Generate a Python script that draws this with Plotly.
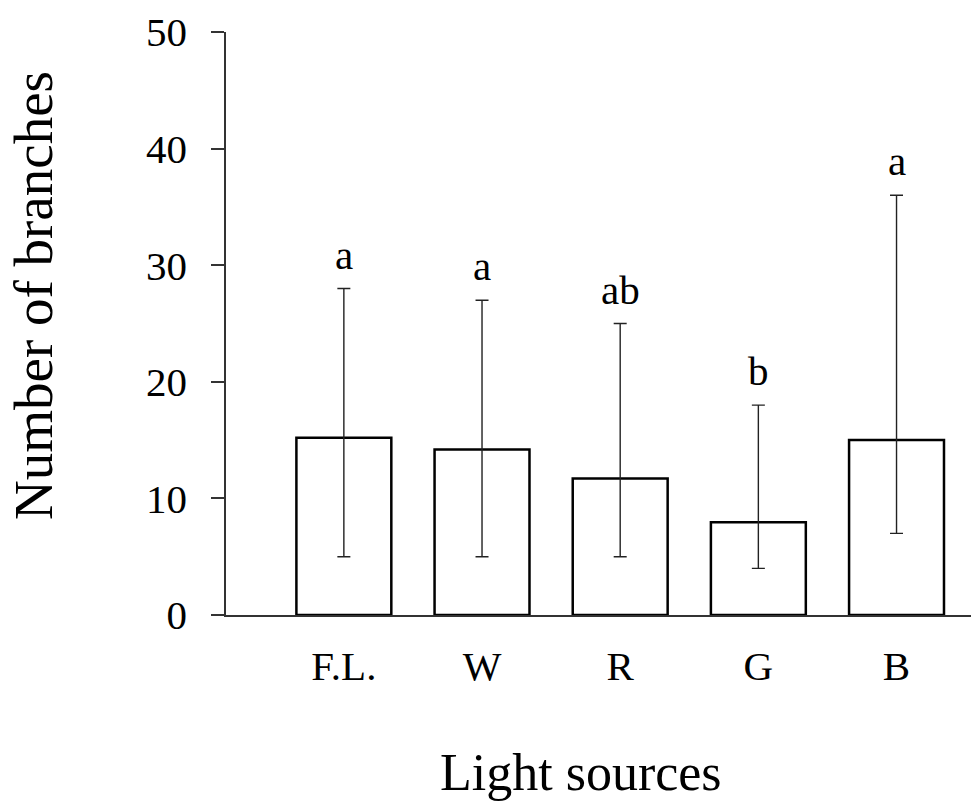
import plotly.graph_objects as go

categories = ["F.L.", "W", "R", "G", "B"]
means = [15.2, 14.2, 11.7, 7.95, 15.0]
upper = [28, 27, 25, 18, 36]
lower = [5, 5, 5, 4, 7]
letters = ["a", "a", "ab", "b", "a"]
y_ticks = [0, 10, 20, 30, 40, 50]

FONT = "Liberation Serif, Times New Roman, serif"

err_plus = [u - m for u, m in zip(upper, means)]
err_minus = [m - l for m, l in zip(means, lower)]

fig = go.Figure()
fig.add_trace(go.Bar(
    x=list(range(len(categories))),
    y=means,
    width=0.687,
    marker=dict(color="white", line=dict(color="black", width=2.5)),
    error_y=dict(type="data", symmetric=False, array=err_plus, arrayminus=err_minus,
                 color="#222222", thickness=1.4, width=6.5),
    showlegend=False,
    hoverinfo="skip",
))

for i, (lab, u) in enumerate(zip(letters, upper)):
    fig.add_annotation(x=i, y=u, text=lab, showarrow=False, xref="x", yref="y",
                       yanchor="bottom", yshift=9,
                       font=dict(family=FONT, size=41, color="black"))

fig.add_annotation(x=(581 - 226) / 745, y=(615 - 772) / 583, xref="paper", yref="paper",
                   text="Light sources", showarrow=False, xanchor="center", yanchor="middle",
                   font=dict(family=FONT, size=52, color="black"))
fig.add_annotation(x=(33 - 226) / 745, y=(615 - 296) / 583, xref="paper", yref="paper",
                   text="Number of branches", showarrow=False, textangle=-90,
                   xanchor="center", yanchor="middle",
                   font=dict(family=FONT, size=55, color="black"))

fig.update_layout(
    width=971, height=805,
    margin=dict(l=226, r=0, t=32, b=190, autoexpand=False),
    paper_bgcolor="white", plot_bgcolor="white",
    font=dict(family=FONT, color="black"),
    xaxis=dict(
        range=[-0.853, 4.539],
        tickmode="array", tickvals=list(range(len(categories))), ticktext=categories,
        showgrid=False, zeroline=False, showline=True, linecolor="#333333", linewidth=1.5,
        ticks="", tickfont=dict(family=FONT, size=41, color="black"),
        ticklabelstandoff=14,
    ),
    yaxis=dict(
        range=[0, 50], tickmode="array", tickvals=y_ticks,
        showgrid=False, zeroline=False, showline=True, linecolor="#333333", linewidth=1.5,
        ticks="outside", ticklen=13, tickwidth=1.5, tickcolor="#333333",
        tickfont=dict(family=FONT, size=41, color="black"),
        ticklabelstandoff=16,
    ),
)

fig.write_html("out.html")
